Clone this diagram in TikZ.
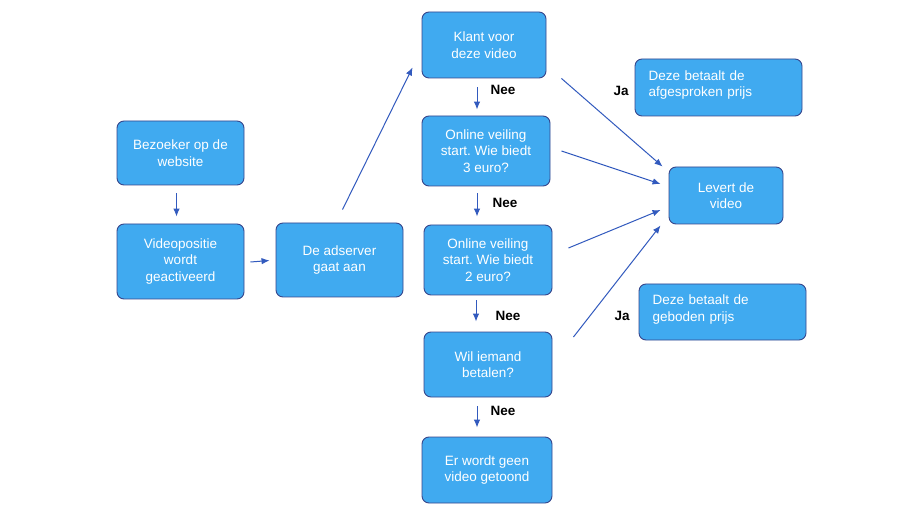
\documentclass[tikz,border=0pt]{standalone}
\usepackage{fontspec}
\setmainfont{Liberation Sans}
\usetikzlibrary{arrows.meta}
\definecolor{boxfill}{RGB}{64,170,240}
\definecolor{boxline}{RGB}{55,70,140}
\definecolor{arrcol}{RGB}{50,90,190}
\frenchspacing
\begin{document}
\begin{tikzpicture}[x=1pt,y=-1pt,
 box/.style={draw=boxline, line width=0.9pt, fill=boxfill, rounded corners=7pt, text=white,
   font=\fontsize{13.5}{16.5}\selectfont, align=center, inner sep=0pt},
 lbox/.style={box, align=left, text width=140pt, inner xsep=13pt, text depth=24pt},
 arr/.style={draw=arrcol, line width=1pt, -{Latex[length=8pt,width=6.5pt]}},
 lab/.style={font=\fontsize{13.5}{16}\selectfont\bfseries, text=black}]
\useasboundingbox (0,0) rectangle (920,518);
\fill[white] (0,0) rectangle (920,518);
\node[box, minimum width=127pt, minimum height=64pt] (bz) at (180.5,153) {Bezoeker op de\\website};
\node[box, minimum width=127pt, minimum height=75pt] (vp) at (180.5,261.5) {Videopositie\\wordt\\geactiveerd};
\node[box, minimum width=127pt, minimum height=74pt] (as) at (339.5,260) {De adserver\\gaat aan};
\node[box, minimum width=124pt, minimum height=66pt] (kl) at (484,45) {Klant voor\\deze video};
\node[box, minimum width=128pt, minimum height=70pt] (o3) at (486,151) {Online veiling\\start. Wie biedt\\3 euro?};
\node[box, minimum width=128pt, minimum height=70pt] (o2) at (488,260) {Online veiling\\start. Wie biedt\\2 euro?};
\node[box, minimum width=128pt, minimum height=65pt] (wi) at (488,364.5) {Wil iemand\\betalen?};
\node[box, minimum width=130pt, minimum height=66pt] (ew) at (487,470) {Er wordt geen\\video getoond};
\node[lbox, minimum width=167pt, minimum height=57pt] (da) at (718.5,87.5) {Deze betaalt de\\afgesproken prijs};
\node[box, minimum width=114pt, minimum height=57pt] (lv) at (726,195.5) {Levert de\\video};
\node[lbox, minimum width=167pt, minimum height=56pt] (dg) at (722.5,312) {Deze betaalt de\\geboden prijs};
% arrows
\draw[arr] ([shift={(-4,8)}]bz.south) -- ([shift={(-4,-7)}]vp.north);
\draw[arr] ([shift={(6,0.5)}]vp.east) -- ([shift={(-6,0.5)}]as.west);
\draw[arr] ([shift={(3,-13)}]as.north) -- ([shift={(-9,-11)}]kl.south west);
\draw[arr] ([shift={(-7,9)}]kl.south) -- ([shift={(-9,-6)}]o3.north);
\draw[arr] ([shift={(-9,7)}]o3.south) -- ([shift={(-11,-8)}]o2.north);
\draw[arr] ([shift={(-12,5)}]o2.south) -- ([shift={(-12,-10)}]wi.north);
\draw[arr] ([shift={(-11,9)}]wi.south) -- ([shift={(-10,-9)}]ew.north);
\draw[arr] ([shift={(15,0)}]kl.south east) -- ([shift={(-6,0)}]lv.north west);
\draw[arr] ([shift={(11,0)}]o3.east) -- ([shift={(-8,-11.5)}]lv.west);
\draw[arr] ([shift={(16,-12)}]o2.east) -- ([shift={(-8,14.5)}]lv.west);
\draw[arr] ([shift={(21,-27.5)}]wi.east) -- ([shift={(-8,1)}]lv.south west);
% labels
\node[lab] (n1) at (503,90) {Nee};
\node[lab] (n2) at (505,203) {Nee};
\node[lab] (n3) at (508,316) {Nee};
\node[lab] (n4) at (503,411) {Nee};
\node[lab] (j1) at (621,91) {Ja};
\node[lab] (j2) at (622,316) {Ja};
\end{tikzpicture}
\end{document}
